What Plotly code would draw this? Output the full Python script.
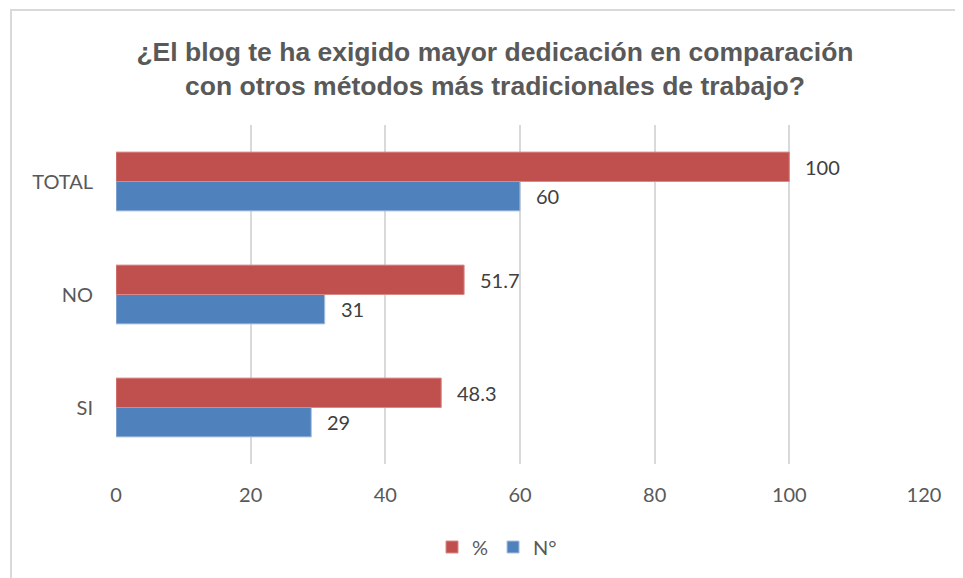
import plotly.graph_objects as go

categories = ["SI", "NO", "TOTAL"]
pct_values = [48.3, 51.7, 100]
n_values = [29, 31, 60]
series_names = ["%", "N°"]
x_ticks = [0, 20, 40, 60, 80, 100, 120]
title_text = "<b>¿El blog te ha exigido mayor dedicación en comparación<br>con otros métodos más tradicionales de trabajo?</b>"

RED = "#C0504D"
BLUE = "#4F81BD"
W, H = 963, 578
OFF = 8  # page body margin
L, T = 116 - OFF, 125 - OFF
pw, ph = 808, 339
R = W - L - pw
B = H - T - ph

FONT = "Lato, Open Sans, sans-serif"

fig = go.Figure()
fig.add_trace(go.Bar(y=categories, x=n_values, name=series_names[1], orientation="h",
                     marker=dict(color=BLUE, line=dict(color="#A9C0DE", width=1))))
fig.add_trace(go.Bar(y=categories, x=pct_values, name=series_names[0], orientation="h",
                     marker=dict(color=RED, line=dict(color="#D98A88", width=1))))

annotations = []
for i, c in enumerate(categories):
    for vals, off in ((pct_values, 0.13), (n_values, -0.13)):
        v = vals[i]
        annotations.append(dict(x=v, y=i + off, xref="x", yref="y", text=f"{v:g}",
                                showarrow=False, xanchor="left", xshift=14,
                                font=dict(family=FONT, size=20, color="#404040")))

fig.update_layout(
    width=W, height=H,
    margin=dict(l=L, r=R, t=T, b=B, autoexpand=False),
    paper_bgcolor="white", plot_bgcolor="white",
    barmode="group", bargap=0.48, bargroupgap=0,
    title=dict(text=title_text, x=(495 - OFF) / W, xanchor="center",
               y=1 - (61 - OFF) / H, yanchor="middle",
               font=dict(family="Liberation Sans, Arial, sans-serif", size=26.5, color="#595959")),
    xaxis=dict(range=[0, 120], tickvals=x_ticks, showgrid=True, gridcolor="#D9D9D9", gridwidth=2,
               zeroline=False, showline=False, ticks="", ticklabelstandoff=17,
               tickfont=dict(family=FONT, size=20, color="#595959")),
    yaxis=dict(showgrid=False, zeroline=False, showline=False, ticks="", ticklabelstandoff=22,
               tickfont=dict(family=FONT, size=20, color="#595959")),
    legend=dict(orientation="h", x=(497 - L - OFF) / pw, xanchor="center",
                y=-(547 - 125 - ph) / ph, yanchor="middle",
                traceorder="reversed", font=dict(family=FONT, size=20, color="#595959")),
    annotations=annotations,
    showlegend=True,
)

# outer chart frame (paper coords from pixel positions)
fig.add_shape(type="rect", xref="paper", yref="paper",
              x0=(11 - OFF - L) / pw, x1=(W + 5 - L) / pw,
              y0=-(H + 5 - T - ph) / ph, y1=(ph + T - (10 - OFF)) / ph,
              line=dict(color="#D9D9D9", width=2), fillcolor="rgba(0,0,0,0)", layer="below")

fig.write_html("out.html")
